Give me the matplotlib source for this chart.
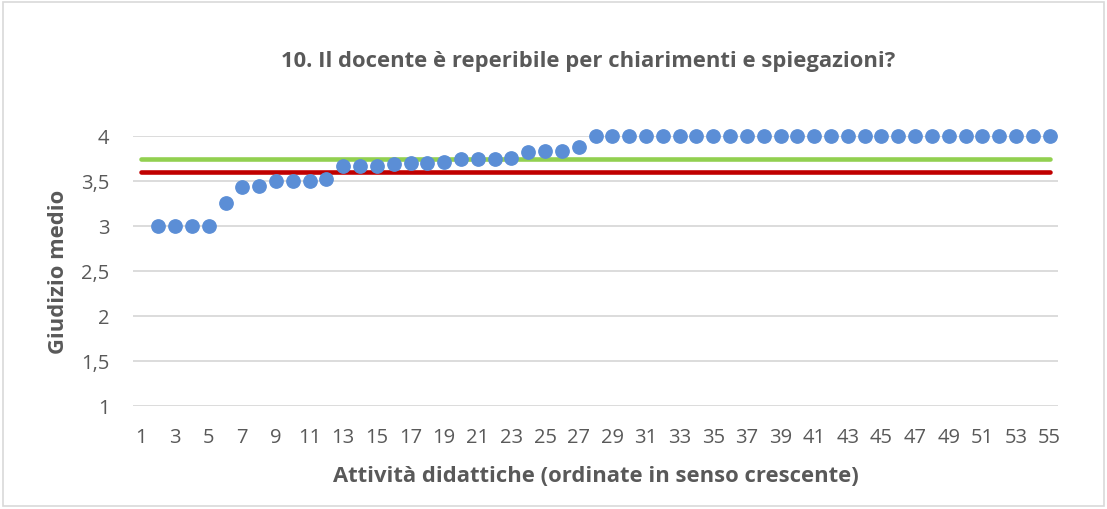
import numpy as np
import matplotlib.pyplot as plt
from matplotlib.patches import Rectangle

plt.rcParams["font.family"] = ["Open Sans", "DejaVu Sans"]

# Giudizio medio per attivita' (ordinate in senso crescente)
activities = np.arange(1, 56)
scores = [np.nan, 3.0, 3.0, 3.0, 3.0, 3.26, 3.43, 3.44, 3.5, 3.5,
          3.5, 3.52, 3.67, 3.67, 3.67, 3.69, 3.70, 3.70, 3.71, 3.74,
          3.75, 3.75, 3.76, 3.82, 3.83, 3.83, 3.88] + [4.0] * 28
mean_green = 3.74
mean_red = 3.60

title = "10. Il docente è reperibile per chiarimenti e spiegazioni?"
xlabel = "Attività didattiche (ordinate in senso crescente)"
ylabel = "Giudizio medio"
yticks = [1, 1.5, 2, 2.5, 3, 3.5, 4]
ytick_labels = ["1", "1,5", "2", "2,5", "3", "3,5", "4"]

text_col = "#595959"
grid_col = "#D9D9D9"

fig = plt.figure(figsize=(11.07, 5.10), dpi=100)
fig.patches.append(Rectangle((0.003, 0.006), 0.994, 0.988, transform=fig.transFigure,
                             fill=False, edgecolor=grid_col, lw=1.2))
ax = fig.add_axes([133 / 1107, 1 - 407 / 510, (1058 - 133) / 1107, 270 / 510])

ax.plot(activities, np.full(len(activities), mean_green), color="#92D050",
        lw=3.3, solid_capstyle="round", zorder=2)
ax.plot(activities, np.full(len(activities), mean_red), color="#C00000",
        lw=3.3, solid_capstyle="round", zorder=2)
ax.plot(activities, scores, ls="none", marker="o", ms=9.6, color="#5B8ED6",
        mec="#5B8ED6", zorder=3, clip_on=False)

ax.set_xlim(0.5, 55.5)
ax.set_ylim(1, 4)
ax.set_yticks(yticks)
ax.set_yticklabels(ytick_labels)
ax.set_xticks(activities[::2])
ax.grid(axis="y", color=grid_col, lw=1.3)
ax.set_axisbelow(True)
for s in ax.spines.values():
    s.set_visible(False)
ax.tick_params(length=0, labelsize=14.5, labelcolor=text_col)
ax.tick_params(axis="y", pad=17)
ax.tick_params(axis="x", pad=15)

ax.set_xlabel(xlabel, fontsize=15.8, fontweight="bold", color=text_col, labelpad=13)
ax.set_ylabel(ylabel, fontsize=15.8, fontweight="bold", color=text_col, labelpad=9)
fig.text(0.531, 1 - 61 / 510, title, ha="center", va="center", fontsize=15.8,
         fontweight="bold", color=text_col)

fig.savefig("out.png", dpi=100)
